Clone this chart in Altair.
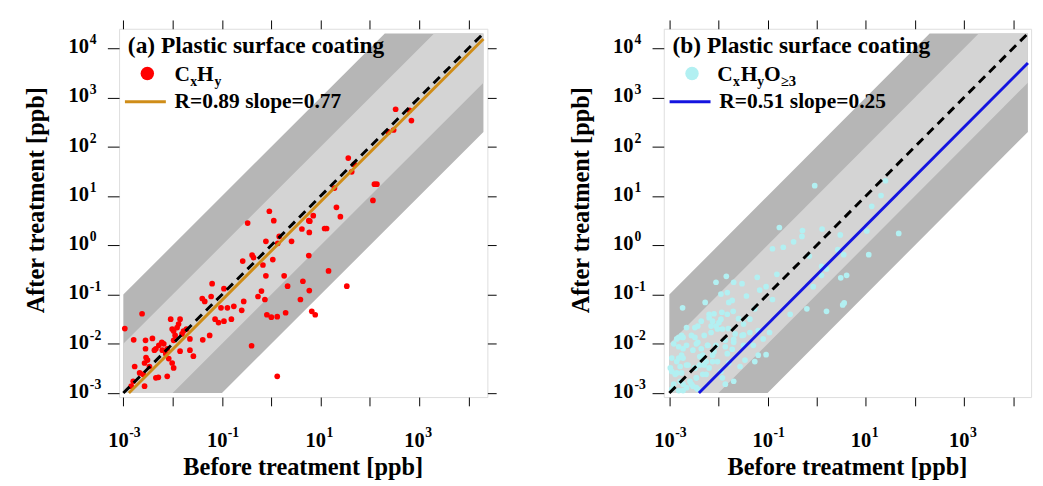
import altair as alt
import pandas as pd

# ---------------- data (log10 of ppb) ----------------
a_before_log10 = [2.52, 2.80, 2.84, 2.37, 2.48, 1.56, 1.68, 1.63, 1.28, 2.09, 2.14, 2.06, 1.32, 1.40, 0.85,
                  0.76, 0.78, 0.62, 0.77, 1.08, 1.12, -0.04, 0.05, -0.48, 0.41, 0.16, 0.13, -0.11, -0.39, -0.36,
                  -0.58, -0.17, 0.03, 0.76, -0.11, 0.26, 0.33, 0.64, 1.16, 1.53, 0.77, 0.59, -0.20, -0.27, -0.13,
                  0.29, 0.82, 0.89, -0.09, 0.00, 0.12, 0.12, -1.20, -0.96, -1.40, -1.35, -1.22, -1.02, -0.89, -0.76,
                  -0.56, -0.60, -1.14, -1.07, -0.96, -0.81, -2.04, -1.85, -1.88, -1.91, -2.01, -1.98, -1.78, -1.72,
                  -1.81, -1.95, -1.98, -2.62, -2.97, -2.79, -2.55, -2.41, -2.22, -2.18, -2.28, -2.34, -2.37, -2.21,
                  -2.11, -2.14, -2.08, -2.01, -1.98, -1.85, -1.65, -1.58, -1.65, -1.39, -1.25, -0.40, -2.55, -2.54,
                  -2.51, -2.47, -2.57, -2.77, -2.67, -2.60, -2.34, -2.29, -2.11, -2.80, -2.84, -2.57]
a_after_log10 = [2.76, 2.74, 2.53, 2.30, 2.34, 1.77, 1.64, 1.49, 1.16, 1.24, 1.24, 0.91, 0.77, 0.58, 0.60,
                 0.50, 0.49, 0.33, 0.26, 0.34, 0.34, 0.69, 0.50, 0.45, 0.08, 0.18, 0.04, 0.08, -0.20, -0.25,
                 -0.32, -0.40, -0.29, -0.21, -0.62, -0.62, -0.83, -0.73, -0.52, -0.83, -0.92, -1.10, -0.93, -1.04, -1.10,
                 -1.37, -1.34, -1.41, -1.41, -1.46, -1.45, -2.66, -0.78, -0.88, -1.08, -1.14, -1.04, -1.27, -1.27, -1.24,
                 -1.14, -1.32, -1.50, -1.57, -1.54, -1.50, -1.50, -1.50, -1.60, -1.67, -1.70, -1.74, -1.74, -1.70,
                 -1.80, -1.83, -1.93, -1.39, -1.69, -1.92, -1.93, -1.89, -1.97, -2.00, -2.03, -2.10, -2.13, -2.13,
                 -2.10, -2.20, -2.30, -2.39, -2.49, -2.15, -2.13, -2.25, -1.90, -1.92, -1.83, -2.04, -2.10, -2.28,
                 -2.33, -2.46, -2.39, -2.46, -2.59, -2.62, -2.69, -2.68, -2.66, -2.76, -2.86, -2.86]

b_before_log10 = [-0.04, 1.40, 1.31, 1.12, 1.02, 1.67, 1.06, 0.48, 0.43, 0.55, 0.11, -0.29, -0.47, -0.30, -0.76,
                  -0.68, -0.90, -0.15, 0.10, 0.20, 0.10, 0.61, 0.49, -0.81, -1.21, -1.84, 0.56, 0.53, 0.20,
                  -2.05, -1.69, -1.52, -1.95, -1.82, -1.16, -1.03, -1.43, -1.72, -1.79, -2.27, -2.73, -1.26, -0.90,
                  -0.54, -0.20, -2.09, -1.93, -2.19, -2.12, -1.99, -2.42, -2.15, -2.02, -1.80, -1.59, -1.49, -1.36,
                  -1.66, -1.49, -1.69, -1.86, -2.65, -2.85, -2.75, -2.72, -2.48, -2.45, -2.35, -2.32, -2.25, -2.22,
                  -2.05, -1.86, -1.72, -1.49, -1.29, -1.19, -1.09, -0.96, -1.19, -1.03, -1.56, -1.46, -1.69, -1.95,
                  -1.92, -1.86, -2.19, -2.32, -2.48, -2.62, -2.78, -2.85, -2.95, -2.72, -2.85, -2.45, -2.55, -2.65,
                  -2.72, -2.91, -2.81, -2.45, -2.38, -2.12, -2.02, -1.79, -1.26, -1.70, -0.07,
                  -2.81, -2.72, -2.91, -2.81, -2.65, -2.52, -2.42, -2.29, -2.15, -2.05, -1.95, -1.82, -1.92, -2.22,
                  -2.09, -1.82, -1.69, -1.52, -1.36, -2.12, -2.29, -2.48, -2.65, -2.75, -2.88, -2.78, -2.58, -2.45,
                  -2.25, -2.95, -2.72, -2.42, -2.52, -2.81, -2.95, -2.98, -2.75, -2.35, -2.48, -2.19, -2.55, -2.38]
b_after_log10 = [1.21, 1.31, 1.01, 0.79, 0.29, 0.24, -0.19, 0.21, -0.09, -0.19, 0.33, 0.30, 0.07, 0.18, 0.36,
                 -0.04, -0.07, -0.22, -0.43, -0.48, -0.61, -0.61, -0.66, -0.59, -0.65, -0.63, -1.17, -1.21, -1.34,
                 -0.75, -0.75, -0.78, -0.99, -0.96, -0.91, -0.84, -1.03, -1.12, -1.16, -1.16, -1.27, -1.29, -1.10,
                 -1.40, -1.29, -1.39, -1.36, -1.47, -1.54, -1.57, -1.64, -1.64, -1.70, -1.69, -1.49, -1.60, -1.50,
                 -1.80, -1.82, -1.91, -1.93, -1.67, -1.90, -1.83, -2.10, -1.87, -2.00, -2.10, -2.23, -2.36, -2.03,
                 -2.03, -2.06, -2.11, -2.03, -2.03, -1.73, -1.90, -1.77, -2.23, -2.22, -2.46, -2.33, -2.76, -2.56,
                 -2.69, -2.82, -2.49, -2.62, -2.49, -2.43, -2.46, -2.59, -2.56, -2.29, -2.36, -2.69, -2.82, -2.89,
                 -2.82, -2.82, -2.95, -2.89, -2.43, -2.23, -2.36, -2.39, -2.36, -1.34, -0.84,
                 -1.87, -1.87, -2.00, -2.06, -2.03, -2.13, -1.97, -1.83, -1.77, -1.64, -1.50, -1.40, -1.70, -2.03,
                 -2.16, -2.20, -1.97, -1.83, -1.77, -2.36, -2.43, -2.49, -2.43, -2.59, -2.62, -2.76, -2.76, -2.69,
                 -2.62, -2.92, -2.95, -2.92, -2.86, -2.29, -2.29, -2.49, -2.23, -1.54, -1.67, -1.40, -1.83, -2.26]

a_R, a_slope = 0.89, 0.77
b_R, b_slope = 0.51, 0.25

tick_exps = [-3, -2, -1, 0, 1, 2, 3, 4]
x_label_exps = [-3, -1, 1, 3]
y_label_exps = [-3, -2, -1, 0, 1, 2, 3, 4]
band_ratios = [100, 10]          # outer (factor 100) and inner (factor 10) bands
band_lo, band_hi = 1e-3, 10 ** 4.3

FONT = "Liberation Serif"
DARK = "#b6b6b6"
LIGHT = "#d4d4d4"


def band_df(ratio):
    xs = sorted({band_lo, band_lo * ratio, band_hi / ratio, band_hi})
    return pd.DataFrame({
        "x": xs,
        "y1": [max(x / ratio, band_lo) for x in xs],
        "y2": [min(x * ratio, band_hi) for x in xs],
    })


def txt(s, x, y, size, align="left", angle=0, color="black"):
    kw = dict(font=FONT, fontWeight="bold", fontSize=size, align=align,
              baseline="alphabetic", color=color)
    if angle:
        kw["angle"] = angle
    return alt.Chart(pd.DataFrame({"t": [s]})).mark_text(**kw).encode(
        x=alt.value(x), y=alt.value(y), text="t:N")


def panel(tag, before, after, pt_color, fit_color, R, slope, species, xdom, ydom, w, h, right_axis):
    xs = alt.Scale(type="log", domain=xdom, nice=False, zero=False)
    ys = alt.Scale(type="log", domain=ydom, nice=False, zero=False)
    vals = [10.0 ** k for k in tick_exps]
    common = dict(values=vals, labels=False, domain=False, grid=False, ticks=True,
                  tickColor="black", tickWidth=1, title=None)

    layers = []
    for ratio, col in zip(band_ratios, [DARK, LIGHT]):
        layers.append(alt.Chart(band_df(ratio)).mark_area(color=col, opacity=1).encode(
            x=alt.X("x:Q", scale=xs, axis=None),
            y=alt.Y("y1:Q", scale=ys, axis=None),
            y2="y2:Q"))

    pts = pd.DataFrame({"before": [10.0 ** v for v in before], "after": [10.0 ** v for v in after]})
    layers.append(alt.Chart(pts).mark_circle(color=pt_color, size=34, opacity=1).encode(
        x=alt.X("before:Q", scale=xs, axis=alt.Axis(orient="bottom", tickSize=9, **common)),
        y=alt.Y("after:Q", scale=ys, axis=alt.Axis(orient="left", tickSize=12, **common))))

    fit = pd.DataFrame({"x": [band_lo / slope, band_hi]})
    fit["y"] = fit["x"] * slope
    layers.append(alt.Chart(fit).mark_line(color=fit_color, strokeWidth=3).encode(
        x=alt.X("x:Q", scale=xs, axis=None), y=alt.Y("y:Q", scale=ys, axis=None)))

    one = pd.DataFrame({"x": [band_lo, band_hi], "y": [band_lo, band_hi]})
    layers.append(alt.Chart(one).mark_line(color="black", strokeWidth=3, strokeDash=[9, 6]).encode(
        x=alt.X("x:Q", scale=xs, axis=alt.Axis(orient="top", tickSize=9, **common)),
        y=alt.Y("y:Q", scale=ys,
                axis=alt.Axis(orient="right", tickSize=9, **common) if right_axis else None)))

    # tick labels 10^k
    xl = pd.DataFrame({"v": [10.0 ** k for k in x_label_exps], "e": [str(k) for k in x_label_exps]})
    yl = pd.DataFrame({"v": [10.0 ** k for k in y_label_exps], "e": [str(k) for k in y_label_exps]})
    big = dict(font=FONT, fontWeight="bold", fontSize=21, baseline="alphabetic", color="black")
    small = dict(font=FONT, fontWeight="bold", fontSize=14, baseline="alphabetic", color="black")
    layers.append(alt.Chart(xl).mark_text(align="center", dx=-5, **big).encode(
        x=alt.X("v:Q", scale=xs, axis=None), y=alt.value(h + 51), text=alt.value("10")))
    layers.append(alt.Chart(xl).mark_text(align="left", dx=6, **small).encode(
        x=alt.X("v:Q", scale=xs, axis=None), y=alt.value(h + 41), text="e:N"))
    layers.append(alt.Chart(yl).mark_text(align="right", dy=5, **big).encode(
        x=alt.value(-31), y=alt.Y("v:Q", scale=ys, axis=None), text=alt.value("10")))
    layers.append(alt.Chart(yl).mark_text(align="left", dy=-4, **small).encode(
        x=alt.value(-30), y=alt.Y("v:Q", scale=ys, axis=None), text="e:N"))

    # axis titles
    layers.append(txt("Before treatment [ppb]", w / 2, h + 80, 25, align="center"))
    layers.append(txt("After treatment [ppb]", -77, 176, 25, align="center", angle=270))

    # legend
    layers.append(txt(f"({tag}) Plastic surface coating", 9, 25, 24))
    layers.append(alt.Chart(pd.DataFrame({"k": [0]})).mark_circle(color=pt_color, size=190, opacity=1).encode(
        x=alt.value(29), y=alt.value(46)))
    for s, px, py, fs in species:
        layers.append(txt(s, px, py, fs))
    layers.append(alt.Chart(pd.DataFrame({"k": [0]})).mark_rule(color=fit_color, strokeWidth=3).encode(
        x=alt.value(6), x2=alt.value(48), y=alt.value(75)))
    layers.append(txt(f"R={R:.2f} slope={slope:.2f}", 57, 81, 22))

    return alt.layer(*layers).resolve_axis(x="independent", y="independent").properties(width=w, height=h)


species_a = [("C", 57, 54, 22), ("x", 73, 59, 14), ("H", 80, 54, 22), ("y", 98, 59, 14)]
species_b = [("C", 55, 54, 22), ("x", 71, 59, 14), ("H", 79, 54, 22), ("y", 96, 59, 14),
             ("O", 103, 54, 22), ("≥3", 120, 59, 15)]

pa = panel("a", a_before_log10, a_after_log10, "#ff0000", "#cf8d18", a_R, a_slope, species_a,
           [8.2e-4, 2.4e4], [8.3e-4, 2.48e4], 378, 378, True)
pb = panel("b", b_before_log10, b_after_log10, "#b2f0f2", "#1414e0", b_R, b_slope, species_b,
           [7.7e-4, 2.32e4], [8.3e-4, 2.48e4], 377, 378, False)

chart = alt.hconcat(pa, pb, spacing=73).properties(
    padding={"left": 16, "top": 5, "right": 0, "bottom": 0}
).configure_view(stroke="black", strokeWidth=1.2).configure(background="white")

chart.save("out.html", embed_options={"renderer": "svg", "actions": False})
